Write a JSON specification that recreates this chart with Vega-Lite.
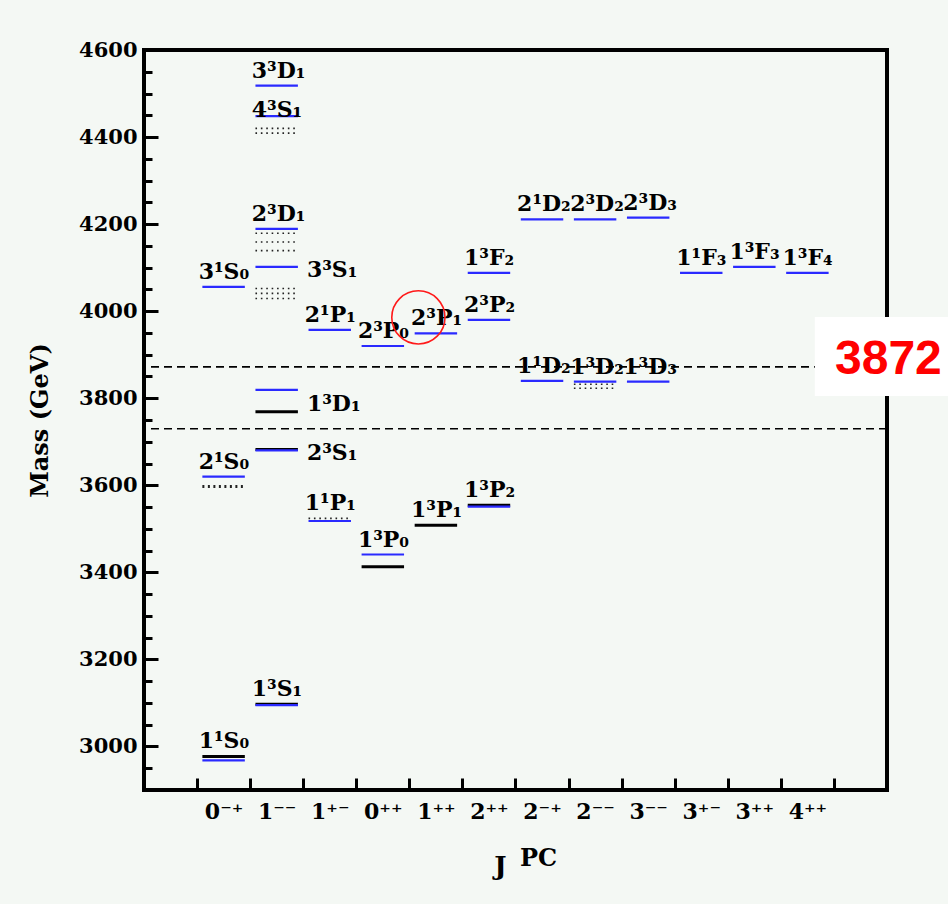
{
  "$schema": "https://vega.github.io/schema/vega-lite/v6.json",
  "width": 743,
  "height": 740,
  "autosize": "none",
  "padding": {"left": 144, "top": 50, "right": 61, "bottom": 114},
  "background": "#f4f8f4",
  "title": {
    "text": "PC",
    "orient": "bottom",
    "anchor": "middle",
    "frame": "group",
    "offset": -32,
    "dx": 23,
    "font": "DejaVu Serif",
    "fontSize": 24,
    "fontWeight": "bold",
    "color": "black"
  },
  "config": {
    "view": {"stroke": "black", "strokeWidth": 4},
    "text": {"font": "DejaVu Serif", "fontWeight": "bold", "fontSize": 22, "color": "black"}
  },
  "datasets": {
    "levels": [
      {"jpc": "0⁻⁺", "state": "1¹S₀", "mass": 2977, "kind": "exp"},
      {"jpc": "0⁻⁺", "state": "1¹S₀", "mass": 2968, "kind": "theory"},
      {"jpc": "0⁻⁺", "state": "2¹S₀", "mass": 3620, "kind": "theory"},
      {"jpc": "0⁻⁺", "state": "2¹S₀", "mass": 3597, "kind": "hatch"},
      {"jpc": "0⁻⁺", "state": "3¹S₀", "mass": 4056, "kind": "theory"},
      {"jpc": "1⁻⁻", "state": "1³S₁", "mass": 3097, "kind": "exp"},
      {"jpc": "1⁻⁻", "state": "1³S₁", "mass": 3095, "kind": "theory"},
      {"jpc": "1⁻⁻", "state": "2³S₁", "mass": 3682, "kind": "exp"},
      {"jpc": "1⁻⁻", "state": "2³S₁", "mass": 3680, "kind": "theory"},
      {"jpc": "1⁻⁻", "state": "1³D₁", "mass": 3769, "kind": "exp"},
      {"jpc": "1⁻⁻", "state": "1³D₁", "mass": 3819, "kind": "theory"},
      {"jpc": "1⁻⁻", "state": "3³S₁", "mass": 4102, "kind": "theory"},
      {"jpc": "1⁻⁻", "state": "ψ(4040)", "mass": 4052, "kind": "range"},
      {"jpc": "1⁻⁻", "state": "ψ(4040)", "mass": 4041, "kind": "range"},
      {"jpc": "1⁻⁻", "state": "ψ(4040)", "mass": 4029, "kind": "range"},
      {"jpc": "1⁻⁻", "state": "2³D₁", "mass": 4189, "kind": "theory"},
      {"jpc": "1⁻⁻", "state": "ψ(4160)", "mass": 4179, "kind": "range"},
      {"jpc": "1⁻⁻", "state": "ψ(4160)", "mass": 4159, "kind": "range"},
      {"jpc": "1⁻⁻", "state": "ψ(4160)", "mass": 4139, "kind": "range"},
      {"jpc": "1⁻⁻", "state": "4³S₁", "mass": 4448, "kind": "theory"},
      {"jpc": "1⁻⁻", "state": "ψ(4415)", "mass": 4420, "kind": "range"},
      {"jpc": "1⁻⁻", "state": "ψ(4415)", "mass": 4409, "kind": "range"},
      {"jpc": "1⁻⁻", "state": "3³D₁", "mass": 4518, "kind": "theory"},
      {"jpc": "1⁺⁻", "state": "1¹P₁", "mass": 3518, "kind": "theory"},
      {"jpc": "1⁺⁻", "state": "1¹P₁", "mass": 3524, "kind": "range"},
      {"jpc": "1⁺⁻", "state": "2¹P₁", "mass": 3957, "kind": "theory"},
      {"jpc": "0⁺⁺", "state": "1³P₀", "mass": 3441, "kind": "theory"},
      {"jpc": "0⁺⁺", "state": "1³P₀", "mass": 3413, "kind": "exp"},
      {"jpc": "0⁺⁺", "state": "2³P₀", "mass": 3920, "kind": "theory"},
      {"jpc": "1⁺⁺", "state": "1³P₁", "mass": 3508, "kind": "exp"},
      {"jpc": "1⁺⁺", "state": "2³P₁", "mass": 3949, "kind": "theory"},
      {"jpc": "2⁺⁺", "state": "1³P₂", "mass": 3554, "kind": "exp"},
      {"jpc": "2⁺⁺", "state": "1³P₂", "mass": 3551, "kind": "theory"},
      {"jpc": "2⁺⁺", "state": "2³P₂", "mass": 3980, "kind": "theory"},
      {"jpc": "2⁺⁺", "state": "1³F₂", "mass": 4088, "kind": "theory"},
      {"jpc": "2⁻⁺", "state": "1¹D₂", "mass": 3840, "kind": "theory"},
      {"jpc": "2⁻⁺", "state": "2¹D₂", "mass": 4211, "kind": "theory"},
      {"jpc": "2⁻⁻", "state": "1³D₂", "mass": 3838, "kind": "theory"},
      {"jpc": "2⁻⁻", "state": "X(3823)", "mass": 3832, "kind": "range"},
      {"jpc": "2⁻⁻", "state": "X(3823)", "mass": 3823, "kind": "range"},
      {"jpc": "2⁻⁻", "state": "2³D₂", "mass": 4211, "kind": "theory"},
      {"jpc": "3⁻⁻", "state": "1³D₃", "mass": 3838, "kind": "theory"},
      {"jpc": "3⁻⁻", "state": "2³D₃", "mass": 4215, "kind": "theory"},
      {"jpc": "3⁺⁻", "state": "1¹F₃", "mass": 4088, "kind": "theory"},
      {"jpc": "3⁺⁺", "state": "1³F₃", "mass": 4102, "kind": "theory"},
      {"jpc": "4⁺⁺", "state": "1³F₄", "mass": 4088, "kind": "theory"}
    ],
    "labels": [
      {"jpc": "0⁻⁺", "state": "1¹S₀", "mass": 2977, "pos": "above"},
      {"jpc": "0⁻⁺", "state": "2¹S₀", "mass": 3620, "pos": "above"},
      {"jpc": "0⁻⁺", "state": "3¹S₀", "mass": 4056, "pos": "above"},
      {"jpc": "1⁻⁻", "state": "1³S₁", "mass": 3097, "pos": "above"},
      {"jpc": "1⁻⁻", "state": "2³S₁", "mass": 3682, "pos": "right"},
      {"jpc": "1⁻⁻", "state": "1³D₁", "mass": 3794, "pos": "right"},
      {"jpc": "1⁻⁻", "state": "3³S₁", "mass": 4102, "pos": "right"},
      {"jpc": "1⁻⁻", "state": "2³D₁", "mass": 4189, "pos": "above"},
      {"jpc": "1⁻⁻", "state": "4³S₁", "mass": 4448, "pos": "on"},
      {"jpc": "1⁻⁻", "state": "3³D₁", "mass": 4518, "pos": "above"},
      {"jpc": "1⁺⁻", "state": "1¹P₁", "mass": 3524, "pos": "above"},
      {"jpc": "1⁺⁻", "state": "2¹P₁", "mass": 3957, "pos": "above"},
      {"jpc": "0⁺⁺", "state": "1³P₀", "mass": 3441, "pos": "above"},
      {"jpc": "0⁺⁺", "state": "2³P₀", "mass": 3920, "pos": "above"},
      {"jpc": "1⁺⁺", "state": "1³P₁", "mass": 3508, "pos": "above"},
      {"jpc": "1⁺⁺", "state": "2³P₁", "mass": 3949, "pos": "above"},
      {"jpc": "2⁺⁺", "state": "1³P₂", "mass": 3554, "pos": "above"},
      {"jpc": "2⁺⁺", "state": "2³P₂", "mass": 3980, "pos": "above"},
      {"jpc": "2⁺⁺", "state": "1³F₂", "mass": 4088, "pos": "above"},
      {"jpc": "2⁻⁺", "state": "1¹D₂", "mass": 3840, "pos": "above"},
      {"jpc": "2⁻⁺", "state": "2¹D₂", "mass": 4211, "pos": "above"},
      {"jpc": "2⁻⁻", "state": "1³D₂", "mass": 3838, "pos": "above"},
      {"jpc": "2⁻⁻", "state": "2³D₂", "mass": 4211, "pos": "above"},
      {"jpc": "3⁻⁻", "state": "1³D₃", "mass": 3838, "pos": "above"},
      {"jpc": "3⁻⁻", "state": "2³D₃", "mass": 4215, "pos": "above"},
      {"jpc": "3⁺⁻", "state": "1¹F₃", "mass": 4088, "pos": "above"},
      {"jpc": "3⁺⁺", "state": "1³F₃", "mass": 4102, "pos": "above"},
      {"jpc": "4⁺⁺", "state": "1³F₄", "mass": 4088, "pos": "above"}
    ],
    "thresholds": [
      {"name": "DD̄", "mass": 3730},
      {"name": "D⁰D̄*⁰", "mass": 3872}
    ],
    "note": [{"jpc": "4⁺⁺", "mass": 3872, "text": "3872"}],
    "highlight": [{"jpc": "1⁺⁺", "state": "2³P₁", "mass": 3949}]
  },
  "encoding": {
    "x": {
      "field": "jpc",
      "type": "nominal",
      "sort": ["0⁻⁺", "1⁻⁻", "1⁺⁻", "0⁺⁺", "1⁺⁺", "2⁺⁺", "2⁻⁺", "2⁻⁻", "3⁻⁻", "3⁺⁻", "3⁺⁺", "4⁺⁺"],
      "scale": {
        "type": "band",
        "domain": ["0⁻⁺", "1⁻⁻", "1⁺⁻", "0⁺⁺", "1⁺⁺", "2⁺⁺", "2⁻⁺", "2⁻⁻", "3⁻⁻", "3⁺⁻", "3⁺⁺", "4⁺⁺"],
        "paddingInner": 0,
        "paddingOuter": 1
      },
      "axis": {
        "title": "J",
        "titleFont": "DejaVu Serif",
        "titleFontSize": 26,
        "titleFontWeight": "bold",
        "titleColor": "black",
        "titleX": 356,
        "titleY": 63,
        "titleAlign": "center",
        "titleBaseline": "top",
        "domain": false,
        "grid": false,
        "tickBand": "extent",
        "tickSize": -12,
        "tickWidth": 3,
        "tickColor": "black",
        "labelAngle": 0,
        "labelFont": "DejaVu Serif",
        "labelFontWeight": "bold",
        "labelFontSize": 22,
        "labelColor": "black",
        "labelPadding": 23
      }
    },
    "y": {
      "field": "mass",
      "type": "quantitative",
      "scale": {"domain": [2900, 4600], "nice": false, "zero": false},
      "axis": {
        "title": "Mass (GeV)",
        "titleFont": "DejaVu Serif",
        "titleFontSize": 24,
        "titleFontWeight": "bold",
        "titleColor": "black",
        "titleAngle": -90,
        "titleX": -104,
        "titleY": 370,
        "titleAlign": "center",
        "titleBaseline": "middle",
        "values": [2950, 3000, 3050, 3100, 3150, 3200, 3250, 3300, 3350, 3400, 3450, 3500, 3550, 3600, 3650, 3700, 3750, 3800, 3850, 3900, 3950, 4000, 4050, 4100, 4150, 4200, 4250, 4300, 4350, 4400, 4450, 4500, 4550, 4600],
        "format": "d",
        "labelExpr": "datum.value % 200 === 0 ? datum.label : ''",
        "domain": false,
        "grid": false,
        "tickSize": {"condition": {"test": "datum.value % 200 === 0", "value": -14}, "value": -8},
        "tickWidth": 3,
        "tickColor": "black",
        "labelFont": "DejaVu Serif",
        "labelFontWeight": "bold",
        "labelFontSize": 21,
        "labelColor": "black",
        "labelPadding": 21
      }
    }
  },
  "layer": [
    {
      "data": {"name": "thresholds"},
      "mark": {"type": "rule", "color": "black", "strokeWidth": 1.6, "strokeDash": [8, 5]},
      "encoding": {"x": null}
    },
    {
      "data": {"name": "levels"},
      "transform": [{"filter": "datum.kind === 'hatch'"}],
      "mark": {"type": "rule", "color": "#222222", "strokeWidth": 3, "strokeDash": [2, 3.5]},
      "encoding": {
        "x": {"field": "jpc", "type": "nominal", "bandPosition": 0.1},
        "x2": {"field": "jpc", "bandPosition": 0.9}
      }
    },
    {
      "data": {"name": "levels"},
      "transform": [{"filter": "datum.kind === 'range'"}],
      "mark": {"type": "rule", "color": "#222222", "strokeWidth": 1.6, "strokeDash": [1.6, 3.8]},
      "encoding": {
        "x": {"field": "jpc", "type": "nominal", "bandPosition": 0.1},
        "x2": {"field": "jpc", "bandPosition": 0.9}
      }
    },
    {
      "data": {"name": "levels"},
      "transform": [{"filter": "datum.kind === 'exp'"}],
      "mark": {"type": "rule", "color": "black", "strokeWidth": 3},
      "encoding": {
        "x": {"field": "jpc", "type": "nominal", "bandPosition": 0.1},
        "x2": {"field": "jpc", "bandPosition": 0.9}
      }
    },
    {
      "data": {"name": "levels"},
      "transform": [{"filter": "datum.kind === 'theory'"}],
      "mark": {"type": "rule", "color": "#2a2aff", "strokeWidth": 2.2},
      "encoding": {
        "x": {"field": "jpc", "type": "nominal", "bandPosition": 0.1},
        "x2": {"field": "jpc", "bandPosition": 0.9}
      }
    },
    {
      "data": {"name": "labels"},
      "transform": [{"filter": "datum.pos === 'above'"}],
      "mark": {"type": "text", "align": "left", "baseline": "alphabetic", "dy": -8},
      "encoding": {
        "x": {"field": "jpc", "type": "nominal", "bandPosition": 0.03},
        "text": {"field": "state"}
      }
    },
    {
      "data": {"name": "labels"},
      "transform": [{"filter": "datum.pos === 'on'"}],
      "mark": {"type": "text", "align": "left", "baseline": "alphabetic", "dy": 1},
      "encoding": {
        "x": {"field": "jpc", "type": "nominal", "bandPosition": 0.03},
        "text": {"field": "state"}
      }
    },
    {
      "data": {"name": "labels"},
      "transform": [{"filter": "datum.pos === 'right'"}],
      "mark": {"type": "text", "align": "left", "baseline": "middle", "dy": 3},
      "encoding": {
        "x": {"field": "jpc", "type": "nominal", "bandPosition": 1.07},
        "text": {"field": "state"}
      }
    },
    {
      "data": {"name": "highlight"},
      "mark": {"type": "point", "shape": "circle", "filled": false, "color": "#ff1a1a", "opacity": 1, "strokeWidth": 1.6, "size": 2830, "yOffset": -16},
      "encoding": {
        "x": {"field": "jpc", "type": "nominal", "bandPosition": 0.17}
      }
    },
    {
      "data": {"name": "note"},
      "mark": {"type": "rect", "color": "white", "yOffset": -50, "y2Offset": 29},
      "encoding": {
        "x": {"field": "jpc", "type": "nominal", "bandPosition": 0.64},
        "x2": {"field": "jpc", "bandPosition": 3.2},
        "y2": {"field": "mass"}
      }
    },
    {
      "data": {"name": "note"},
      "mark": {"type": "text", "align": "left", "baseline": "alphabetic", "dy": 7.5, "font": "Liberation Sans", "fontWeight": "bold", "fontSize": 48, "color": "#ff0000"},
      "encoding": {
        "x": {"field": "jpc", "type": "nominal", "bandPosition": 1.02},
        "text": {"field": "text"}
      }
    }
  ]
}
